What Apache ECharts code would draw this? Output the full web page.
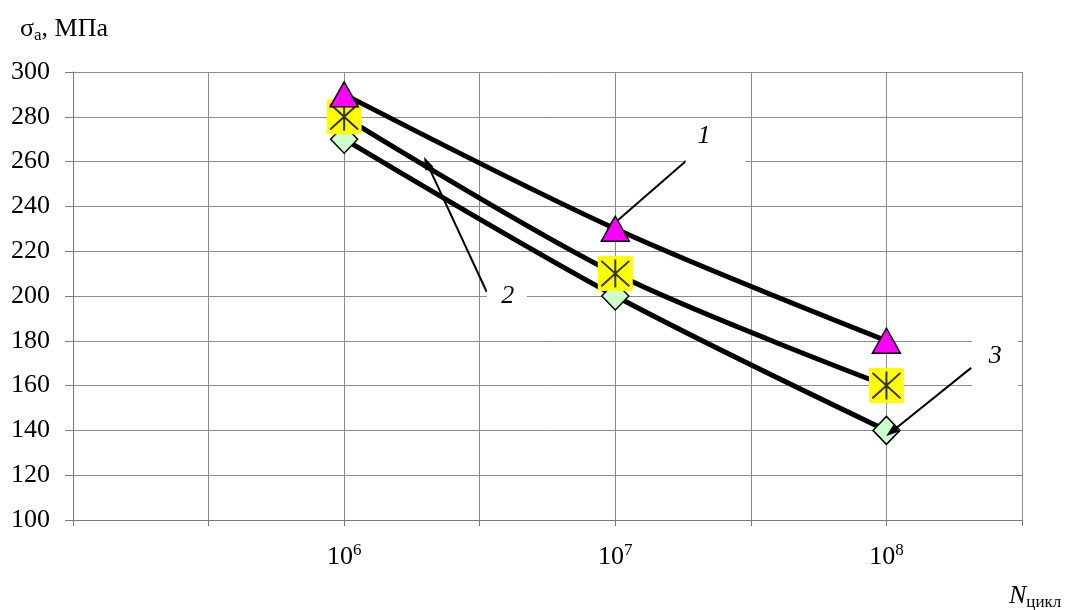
<!DOCTYPE html>
<html>
<head>
<meta charset="utf-8">
<script src="https://cdn.jsdelivr.net/npm/echarts@6/dist/echarts.min.js"></script>
<style>
  html, body { margin: 0; padding: 0; background: #ffffff; }
  #chart { width: 1067px; height: 610px; }
</style>
</head>
<body>
<div id="chart"></div>
<script>
// Fatigue curves: stress amplitude σa versus number of cycles N (log scale).
// The x axis carries log10(N); ticks are labelled as powers of ten.
const cycleExponents = [6, 7, 8];          // N = 10^6, 10^7, 10^8
const curve1 = [290, 230, 180];
const curve2 = [280, 210, 160];
const curve3 = [270, 200, 140];
const stressRange = [100, 300, 20];        // min, max, step (MPa)
const exponentRange = [5, 8.5, 0.5];       // min, max, step (log10 N)
const labelledExponents = [6, 7, 8];

// Curve-number callouts, in axis units (log10 N, MPa)
const calloutText = ['1', '2', '3'];
const calloutTextAt = [[7.327, 271.4], [6.603, 200.0], [8.401, 173.2]];
const calloutBoxAt = [[7.37, 268.5], [6.60, 200.5], [8.401, 170.5]];
const arrowFrom = [[7.265, 260.7], [6.526, 201.8], [8.3125, 167.9]];
const arrowTo = [[6.985, 231.3], [6.305, 259.4], [8.018, 139.3]];

const SERIF = "'Times New Roman', 'Liberation Serif', serif";
const GRID_COLOR = '#8c8c8c';
const AXIS_COLOR = '#7a7a7a';

const toPairs = (ys) => cycleExponents.map((x, i) => [x, ys[i]]);

const calloutBoxSizes = [[60, 46], [40, 30], [46, 54]];

const chart = echarts.init(document.getElementById('chart'), null, { renderer: 'canvas' });

const lineBase = {
  type: 'line',
  smooth: 0.3,
  showSymbol: true,
  animation: false,
  lineStyle: { color: '#000000', width: 5 },
  emphasis: { disabled: true },
  silent: true
};

chart.setOption({
  backgroundColor: '#ffffff',
  animation: false,
  grid: { left: 73, right: 45, top: 72, bottom: 90 },
  xAxis: {
    type: 'value',
    min: exponentRange[0],
    max: exponentRange[1],
    interval: exponentRange[2],
    axisLine: { show: true, lineStyle: { color: AXIS_COLOR, width: 1 } },
    axisTick: { show: true, length: 6, lineStyle: { color: AXIS_COLOR } },
    splitLine: { show: true, lineStyle: { color: GRID_COLOR, width: 1 } },
    axisLabel: {
      margin: 22,
      showMinLabel: true,
      showMaxLabel: true,
      formatter: (v) => labelledExponents.includes(v) ? '{m|10}{s|' + v + '}' : '',
      rich: {
        m: { fontFamily: SERIF, fontSize: 26, color: '#000', lineHeight: 30, verticalAlign: 'middle' },
        s: { fontFamily: SERIF, fontSize: 17, color: '#000', lineHeight: 24, verticalAlign: 'top' }
      }
    }
  },
  yAxis: {
    type: 'value',
    min: stressRange[0],
    max: stressRange[1],
    interval: stressRange[2],
    axisLine: { show: true, lineStyle: { color: AXIS_COLOR, width: 1 } },
    axisTick: { show: true, length: 8, lineStyle: { color: AXIS_COLOR } },
    splitLine: { show: true, lineStyle: { color: GRID_COLOR, width: 1 } },
    axisLabel: {
      margin: 23,
      fontFamily: SERIF,
      fontSize: 26,
      color: '#000',
      padding: [8, 0, 0, 0]
    }
  },
  graphic: [
    {
      type: 'text',
      left: 20,
      top: 16,
      style: {
        text: '{m|σ}{s|a}{m|, МПа}',
        rich: {
          m: { fontFamily: SERIF, fontSize: 26, fill: '#000', lineHeight: 30, verticalAlign: 'middle' },
          s: { fontFamily: SERIF, fontSize: 17, fill: '#000', lineHeight: 22, verticalAlign: 'bottom' }
        }
      }
    },
    {
      type: 'text',
      left: 1009,
      top: 583,
      style: {
        text: '{m|N}{s|цикл}',
        rich: {
          m: { fontFamily: SERIF, fontSize: 26, fontStyle: 'italic', fill: '#000', lineHeight: 30, verticalAlign: 'middle' },
          s: { fontFamily: SERIF, fontSize: 17, fill: '#000', lineHeight: 22, verticalAlign: 'bottom' }
        }
      }
    }
  ],
  series: [
    Object.assign({}, lineBase, {
      name: '3',
      data: toPairs(curve3),
      symbol: 'diamond',
      symbolSize: [27, 28],
      itemStyle: { color: '#ccffcc', borderColor: '#000000', borderWidth: 1.5 },
      z: 2
    }),
    Object.assign({}, lineBase, {
      name: '2',
      data: toPairs(curve2),
      symbol: 'rect',
      symbolSize: 35,
      itemStyle: { color: '#ffff00', borderWidth: 0 },
      z: 3
    }),
    {
      // star-cross glyph drawn over the yellow squares of curve 2
      type: 'scatter',
      data: toPairs(curve2),
      symbol: 'path://M0,0L20,20M20,0L0,20M10,-1L10,21',
      symbolSize: 28,
      itemStyle: { color: 'rgba(0,0,0,0)', borderColor: '#000000', borderWidth: 2 },
      silent: true,
      animation: false,
      z: 4
    },
    Object.assign({}, lineBase, {
      name: '1',
      data: toPairs(curve1),
      symbol: 'triangle',
      symbolSize: [28, 25],
      itemStyle: { color: '#ff00ff', borderColor: '#000000', borderWidth: 1.5 },
      z: 5
    }),
    {
      // curve-number callouts with leader arrows
      type: 'scatter',
      data: [],
      silent: true,
      animation: false,
      z: 6,
      markPoint: {
        silent: true,
        animation: false,
        data: calloutText.map((t, i) => ({
          coord: calloutBoxAt[i],
          symbol: 'rect',
          symbolSize: calloutBoxSizes[i],
          itemStyle: { color: '#ffffff' },
          label: { show: false }
        })).concat(calloutText.map((t, i) => ({
          coord: calloutTextAt[i],
          symbol: 'rect',
          symbolSize: 1,
          itemStyle: { color: 'rgba(255,255,255,0)' },
          label: {
            show: true,
            position: 'inside',
            formatter: t,
            fontFamily: SERIF,
            fontSize: 26,
            fontStyle: 'italic',
            color: '#000'
          }
        })))
      },
      markLine: {
        silent: true,
        animation: false,
        symbol: ['none', 'triangle'],
        symbolSize: [9, 13],
        label: { show: false },
        lineStyle: { color: '#000000', width: 2, type: 'solid' },
        itemStyle: { color: '#000000' },
        data: arrowFrom.map((p, i) => [{ coord: p }, { coord: arrowTo[i] }])
      }
    }
  ]
});
</script>
</body>
</html>
